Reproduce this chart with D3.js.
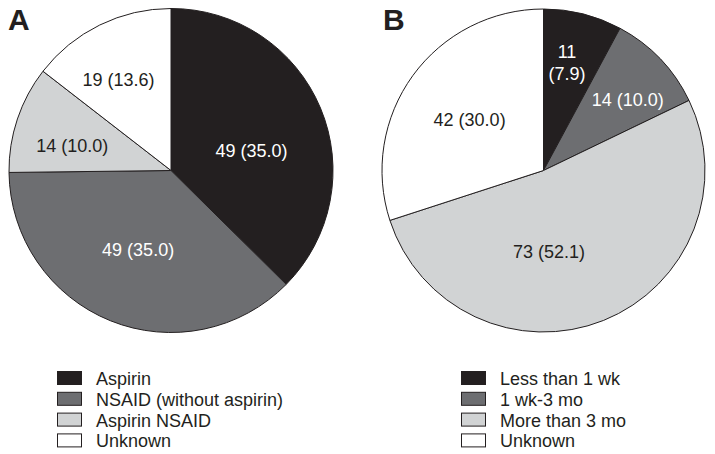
<!DOCTYPE html>
<html>
<head>
<meta charset="utf-8">
<script src="https://cdn.jsdelivr.net/npm/d3@7"></script>
<style>
  html, body { margin: 0; padding: 0; background: #fff; }
  svg { display: block; }
</style>
</head>
<body>
<svg id="chart" width="715" height="454"></svg>
<script>
// ---- Data ----
const categoriesA = ["Aspirin", "NSAID (without aspirin)", "Aspirin NSAID", "Unknown"];
const countsA = [49, 49, 14, 19];
const pctA = ["35.0", "35.0", "10.0", "13.6"];

const categoriesB = ["Less than 1 wk", "1 wk-3 mo", "More than 3 mo", "Unknown"];
const countsB = [11, 14, 73, 42];
const pctB = ["7.9", "10.0", "52.1", "30.0"];

const panelLetters = ["A", "B"];

// ---- Style / layout ----
const fills = ["#231f20", "#6d6e71", "#d1d3d4", "#ffffff"];
const textFills = ["#ffffff", "#ffffff", "#231f20", "#231f20"];
const ink = "#231f20";
const fontFamily = "'Liberation Sans', Arial, Helvetica, sans-serif";

const panels = [
  { cx: 171, cy: 170.5, r: 162, cats: categoriesA, counts: countsA, pct: pctA,
    letterX: 8, legendBoxX: 57, legendTextX: 96,
    labelR: [83, 86, 102, 105], labelShift: [8.8, 0.5, -4.3, -3.9],
    split: [false, false, false, false] },
  { cx: 543.5, cy: 170.5, r: 161.5, cats: categoriesB, counts: countsB, pct: pctB,
    letterX: 383, legendBoxX: 461, legendTextX: 500,
    labelR: [111, 110, 81, 90], labelShift: [-1.9, 3.7, 18, -1.2],
    split: [true, false, false, false] }
];

const svg = d3.select("#chart");
const pie = d3.pie().sort(null).value(d => d);
const toRad = Math.PI / 180;

panels.forEach((p, pi) => {
  const g = svg.append("g").attr("transform", `translate(${p.cx},${p.cy})`);
  const arcs = pie(p.counts);
  const arc = d3.arc().innerRadius(0).outerRadius(p.r);

  g.selectAll("path.slice")
    .data(arcs)
    .join("path")
    .attr("class", "slice")
    .attr("d", arc)
    .attr("fill", (d, i) => fills[i])
    .attr("stroke", ink)
    .attr("stroke-width", 1)
    .attr("stroke-linejoin", "round");

  // labels
  arcs.forEach((d, i) => {
    const mid = (d.startAngle + d.endAngle) / 2 + p.labelShift[i] * toRad;
    const lr = p.labelR[i];
    const x = Math.sin(mid) * lr;
    const y = -Math.cos(mid) * lr;
    const t = g.append("text")
      .attr("text-anchor", "middle")
      .attr("font-family", fontFamily)
      .attr("font-size", 18)
      .attr("fill", textFills[i]);
    if (p.split[i]) {
      t.append("tspan").attr("x", x).attr("y", y - 11 + 6.5).text(p.counts[i]);
      t.append("tspan").attr("x", x).attr("y", y + 11 + 6.5).text(`(${p.pct[i]})`);
    } else {
      t.attr("x", x).attr("y", y + 6.5).text(`${p.counts[i]} (${p.pct[i]})`);
    }
  });

  // panel letter
  svg.append("text")
    .attr("x", p.letterX)
    .attr("y", 30)
    .attr("font-family", "'Liberation Sans Narrow', 'Liberation Sans', Arial, sans-serif")
    .attr("font-weight", "bold")
    .attr("font-size", 30)
    .attr("fill", ink)
    .text(panelLetters[pi]);

  // legend
  const legend = svg.append("g");
  const rowY = d3.scaleLinear().domain([0, 1]).range([371, 391.8]);
  p.cats.forEach((c, i) => {
    legend.append("rect")
      .attr("x", p.legendBoxX + 0.5)
      .attr("y", rowY(i) + 0.5)
      .attr("width", 24)
      .attr("height", 13)
      .attr("fill", fills[i])
      .attr("stroke", ink)
      .attr("stroke-width", 1);
    legend.append("text")
      .attr("x", p.legendTextX)
      .attr("y", rowY(i) + 14)
      .attr("font-family", fontFamily)
      .attr("font-size", 18)
      .attr("fill", ink)
      .text(c);
  });
});
</script>
</body>
</html>
